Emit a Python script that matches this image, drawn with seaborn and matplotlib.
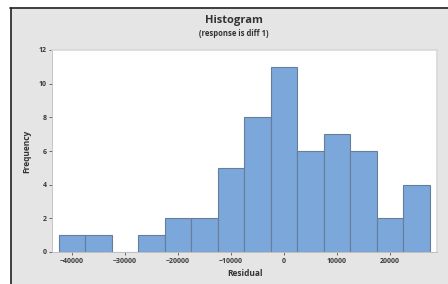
import numpy as np
import pandas as pd
import matplotlib
matplotlib.use('Agg')
import matplotlib.pyplot as plt
from matplotlib.lines import Line2D
import seaborn as sns

# bin midpoints of the residual histogram and the frequency in each bin
bin_mids = [-40000, -35000, -30000, -25000, -20000, -15000, -10000,
            -5000, 0, 5000, 10000, 15000, 20000, 25000]
counts = [1, 1, 0, 1, 2, 2, 5, 8, 11, 6, 7, 6, 2, 4]
bin_width = 5000
x_ticks = [-40000, -30000, -20000, -10000, 0, 10000, 20000]
y_ticks = [0, 2, 4, 6, 8, 10, 12]

df = pd.DataFrame({"Residual": bin_mids, "count": counts})

sns.set_style("white")
plt.rcParams['font.family'] = ['Open Sans', 'DejaVu Sans']

fig = plt.figure(figsize=(4.48, 2.84), dpi=100)
fig.patch.set_facecolor('white')

# gray panel with a dark frame line on top and left, like the screenshot
fig.add_artist(plt.Rectangle((11 / 448, 0), 1, (284 - 8) / 284,
                             transform=fig.transFigure, color='#e5e5e5', zorder=0))
fig.add_artist(Line2D([10 / 448, 1], [1 - 7.5 / 284, 1 - 7.5 / 284],
                      transform=fig.transFigure, color='#222222', lw=1.2))
fig.add_artist(Line2D([11 / 448, 11 / 448], [0, 1 - 7.5 / 284],
                      transform=fig.transFigure, color='#222222', lw=1.2))

ax = fig.add_axes([52 / 448, 32 / 284, 385 / 448, 202 / 284])
# bins as a plain list (numpy array trips up histplot with weights)
edges = [float(e) for e in np.arange(-42500, 27500 + bin_width, bin_width)]
sns.histplot(data=df, x="Residual", weights="count", bins=edges, ax=ax,
             color='#7ba7da', edgecolor='#687d99', linewidth=0.8, alpha=1)

ax.set_facecolor('white')
ax.set_xlim(-43800, 28900)
ax.set_ylim(0, 12)
ax.set_xticks(x_ticks)
ax.set_yticks(y_ticks)
ax.tick_params(axis='both', labelsize=5, colors='#3a3a3a', length=2,
               width=0.5, pad=2, direction='out', bottom=True, left=True)
for lbl in ax.get_xticklabels() + ax.get_yticklabels():
    lbl.set_fontweight('bold')
for side in ['top', 'right']:
    ax.spines[side].set_color('#d8d8d8')
    ax.spines[side].set_linewidth(1.2)
for side in ['left', 'bottom']:
    ax.spines[side].set_color('#bbbbbb')
    ax.spines[side].set_linewidth(0.6)

ax.set_xlabel("Residual", fontsize=6, fontweight='bold', color='#333333', labelpad=3)
ax.set_ylabel("Frequency", fontsize=6, fontweight='bold', color='#333333', labelpad=5)

fig.text(0.5 + 0.5 * 11 / 448 + 0.01, 1 - 20 / 284, "Histogram", ha='center', va='center',
         fontsize=8, fontweight='bold', color='#333333')
fig.text(0.5 + 0.5 * 11 / 448 + 0.01, 1 - 33 / 284, "(response is diff 1)", ha='center',
         va='center', fontsize=5.5, fontweight='bold', color='#333333')

plt.savefig("out.png", dpi=100)
